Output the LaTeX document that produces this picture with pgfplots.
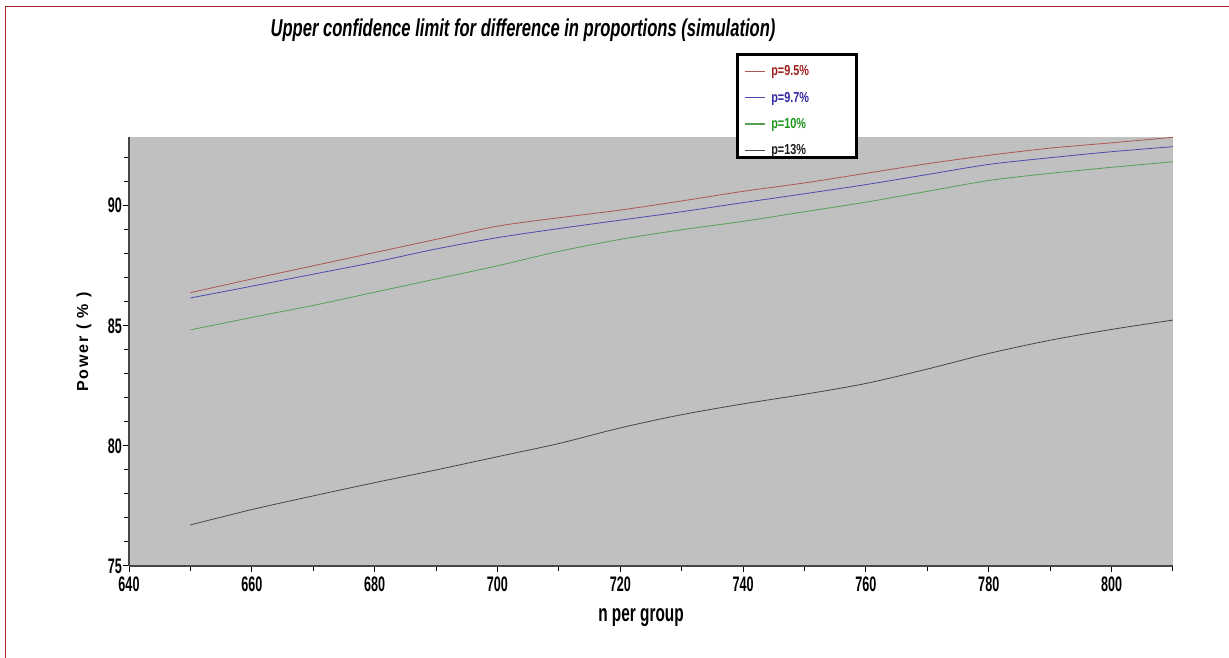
\documentclass[border=0pt]{standalone}
\usepackage{fontspec}
\setmainfont{Liberation Sans}
\newfontfamily\condfont[FakeStretch=0.6]{Liberation Sans}
\newfontfamily\titlefont[FakeStretch=0.68]{Liberation Sans}
\newfontfamily\xlabfont[FakeStretch=0.64]{Liberation Sans}
\newfontfamily\legfont[FakeStretch=0.75]{Liberation Sans}
\newfontfamily\ylabfont[LetterSpace=12]{Liberation Sans}
\usepackage{pgfplots}
\pgfplotsset{compat=1.18}
\definecolor{bgray}{RGB}{192,192,192}
\definecolor{framered}{RGB}{170,35,45}
\definecolor{cred}{RGB}{175,85,85}
\definecolor{cblue}{RGB}{75,75,175}
\definecolor{cgreen}{RGB}{85,160,85}
\definecolor{cblack}{RGB}{70,70,70}
\definecolor{tred}{RGB}{160,30,30}
\definecolor{tblue}{RGB}{50,40,160}
\definecolor{tgreen}{RGB}{30,150,30}
\definecolor{tblack}{RGB}{30,30,30}
\definecolor{axgray}{RGB}{70,70,70}

\pgfplotstableread{
n    red    blue   green  black
650  86.38  86.16  84.83  76.71
660  86.95  86.65  85.35  77.35
670  87.50  87.15  85.85  77.92
680  88.05  87.65  86.40  78.47
690  88.60  88.20  86.95  79.00
700  89.15  88.67  87.50  79.55
710  89.50  89.05  88.10  80.10
720  89.82  89.40  88.60  80.75
730  90.20  89.75  89.00  81.30
740  90.60  90.13  89.35  81.75
750  90.95  90.50  89.75  82.15
760  91.35  90.88  90.15  82.60
770  91.75  91.30  90.60  83.20
780  92.10  91.72  91.05  83.85
790  92.40  92.00  91.35  84.40
800  92.62  92.25  91.60  84.85
810  92.85  92.46  91.83  85.24
}\datatable

\begin{document}
\begin{tikzpicture}
\path[use as bounding box] (0,0) rectangle (1229pt,658pt);
\draw[framered, line width=1.5pt] (5.5pt,0) -- (5.5pt,651.5pt) -- (1229pt,651.5pt);
\begin{axis}[
  at={(129pt,92pt)}, anchor=south west,
  scale only axis, width=1044pt, height=428.7pt,
  xmin=640, xmax=810, ymin=75, ymax=92.85,
  clip=false,
  axis x line=bottom, axis y line=left,
  axis line style={axgray, line width=1.6pt, -},
  axis background/.style={fill=bgray},
  xtick={640,660,...,800}, minor xtick={650,670,...,810},
  ytick={75,80,85,90}, minor ytick={76,77,78,79,81,82,83,84,86,87,88,89,91,92},
  tick align=outside,
  major tick length=6pt, minor tick length=5pt,
  every tick/.style={black, line width=1pt},
  ticklabel style={font=\condfont\bfseries\fontsize{21}{21}\selectfont, black, inner sep=1pt},
  /pgf/number format/assume math mode=true,
  xticklabel style={yshift=-4pt},
  legend style={at={(0.589,1.16)}, anchor=north west, draw=none, fill=none,
    inner sep=0pt, row sep=19.3pt, column sep=6pt,
    nodes={inner sep=0pt, text height=7pt, text depth=0pt},
    font=\legfont\bfseries\fontsize{14.5}{14.5}\selectfont},
  legend cell align=left,
  legend image code/.code={\draw[#1, line width=1.2pt] (0pt,1pt) -- (20pt,1pt);},
]
\draw[black, line width=3pt, fill=white] (rel axis cs:0.5824,1.192) rectangle (rel axis cs:0.6973,0.954);
\addplot[cred, line width=0.8pt, smooth] table[x=n, y=red] {\datatable};
\addlegendentry{\textcolor{tred}{p=9.5\%}}
\addplot[cblue, line width=0.8pt, smooth] table[x=n, y=blue] {\datatable};
\addlegendentry{\textcolor{tblue}{p=9.7\%}}
\addplot[cgreen, line width=0.8pt, smooth] table[x=n, y=green] {\datatable};
\addlegendentry{\textcolor{tgreen}{p=10\%}}
\addplot[cblack, line width=0.8pt, smooth] table[x=n, y=black] {\datatable};
\addlegendentry{\textcolor{tblack}{p=13\%}}
\end{axis}
\node[anchor=base, font=\titlefont\bfseries\itshape\fontsize{24.4}{24.4}\selectfont] at (523pt,621.5pt) {Upper confidence limit for difference in proportions (simulation)};
\node[anchor=base, font=\xlabfont\bfseries\fontsize{24}{24}\selectfont] at (641pt,36pt) {n per group};
\node[rotate=90, font=\ylabfont\bfseries\fontsize{16}{16}\selectfont] at (84pt,316pt) {Power ( \% )};
\end{tikzpicture}
\end{document}
